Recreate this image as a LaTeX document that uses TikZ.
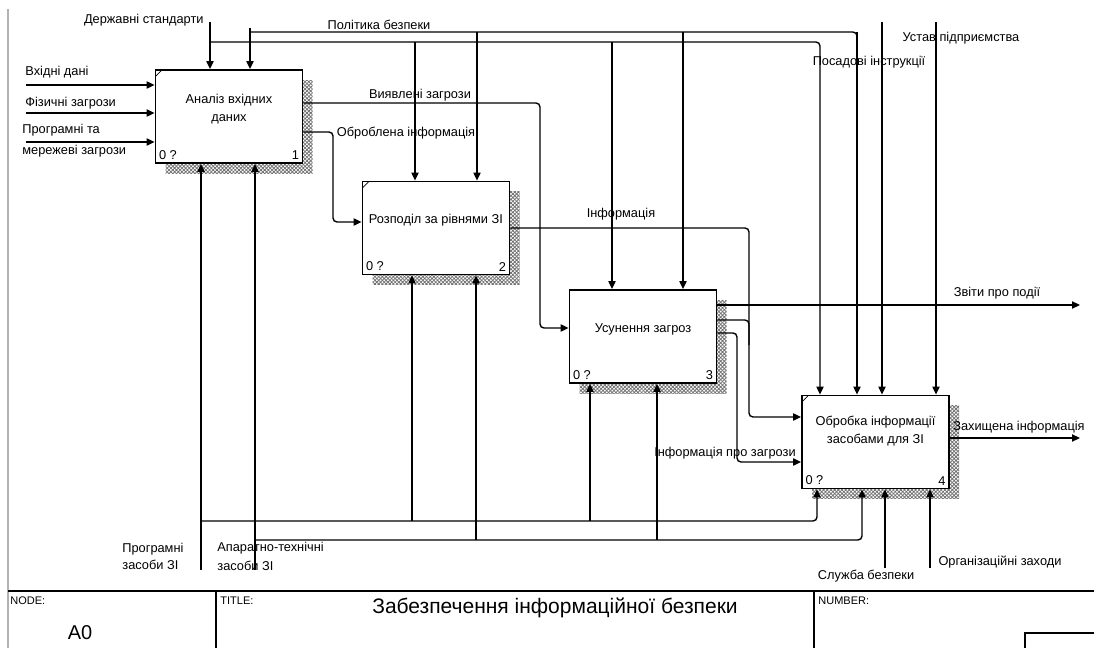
\documentclass[tikz,border=0pt]{standalone}
\usepackage{fontspec}
\setmainfont{Liberation Sans}
\usetikzlibrary{arrows.meta,shadows,patterns.meta}

\begin{document}
\begin{tikzpicture}[x=0.5pt, y=-0.5pt,
    box/.style={draw, line width=0.9pt, fill=white, minimum width=73.5pt,
      minimum height=46.5pt, inner sep=0pt,
      drop shadow={shadow xshift=5pt, shadow yshift=-5pt, opacity=1,
        pattern={Hatch[distance=1.3pt, angle=45, line width=0.4pt]}, pattern color=black!55}},
    boxtxt/.style={font=\fontsize{6.4}{9}\selectfont, align=center, inner sep=0pt},
    lbl/.style={font=\fontsize{6.4}{8}\selectfont, inner sep=0pt},
    corner/.style={font=\fontsize{6.4}{8}\selectfont, inner sep=2pt},
    conn/.style={line width=0.7pt, rounded corners=2pt},
    arr/.style={conn, -{Triangle[length=4pt, width=3.6pt]}}]
  \useasboundingbox (0,0) rectangle (1094,648);

  % --- Frame ---
  \draw[gray!60, line width=0.6pt] (8,648) -- (8,9);

  % --- Activities ---
  \node[box] (b1) at (229,116.5) {};
  \node[box] (b2) at (436,228) {};
  \node[box] (b3) at (643,336.5) {};
  \node[box] (b4) at (875.5,442) {};
  \node[boxtxt] (t1) at (229,109) {Аналіз вхідних\\даних};
  \node[boxtxt] (t2) at (436,220) {Розподіл за рівнями ЗІ};
  \node[boxtxt] (t3) at (643,329) {Усунення загроз};
  \node[boxtxt] (t4) at (875.5,431) {Обробка інформації\\засобами для ЗІ};
  \foreach \b/\n in {b1/1, b2/2, b3/3, b4/4} {
    \node[corner, anchor=south west] at (\b.south west) {0 ?};
    \node[corner, anchor=south east] at (\b.south east) {\n};
  }
  \foreach \b in {b1, b2, b4}
    \draw[line width=0.4pt] ([xshift=0.6pt, yshift=-3.5pt]\b.north west) -- ([xshift=3.5pt, yshift=-0.6pt]\b.north west);

  % --- Controls ---
  \coordinate (stdIn) at (210,22);
  \coordinate (stdBus) at (210,42);
  \coordinate (polBus) at (250,32);
  \coordinate (posIn) at (882,22);
  \coordinate (ustIn) at (936,22);
  \node[lbl, anchor=east] (stdLbl) at (204,20) {Державні стандарти};
  \node[lbl] (polLbl) at (379,25) {Політика безпеки};
  \node[lbl] (posLbl) at (869,62) {Посадові інструкції};
  \node[lbl] (ustLbl) at (961,38) {Устав підприємства};
  \draw[arr] (stdIn) -- (stdIn |- b1.north);
  \draw[arr] (stdBus) -| (820,0 |- b4.north);
  \draw[arr] (415,42) -- (415,0 |- b2.north);
  \draw[arr] (612,42) -- (612,0 |- b3.north);
  \draw[arr] (857,32) -- (857,0 |- b4.north);
  \draw[arr] (polBus) -| (polBus |- b1.north);
  \draw[conn] (polBus) -- (857,32) -- (857,60);
  \draw[arr] (477,32) -- (477,0 |- b2.north);
  \draw[arr] (683,32) -- (683,0 |- b3.north);
  \draw[arr] (posIn) -- (posIn |- b4.north);
  \draw[arr] (ustIn) -- (ustIn |- b4.north);

  % --- Inputs ---
  \coordinate (inA) at (26,85);
  \coordinate (inB) at (26,113);
  \coordinate (inC) at (26,142);
  \node[lbl, anchor=west] (inLbl) at (25,72) {Вхідні дані};
  \node[lbl, anchor=west] (phLbl) at (25,103) {Фізичні загрози};
  \node[lbl, anchor=west, align=left, font=\fontsize{6.4}{10.5}\selectfont] (swLbl) at (22,141) {Програмні та\\мережеві загрози};
  \draw[arr] (inA) -- (inA -| b1.west);
  \draw[arr] (inB) -- (inB -| b1.west);
  \draw[arr] (inC) -- (inC -| b1.west);

  % --- Flows between activities ---
  \node[lbl] (detLbl) at (420,95) {Виявлені загрози};
  \node[lbl] (procLbl) at (406,133) {Оброблена інформація};
  \node[lbl] (infLbl) at (621,214) {Інформація};
  \node[lbl] (thrLbl) at (725,453) {Інформація про загрози};
  \draw[arr] (b1.east |- 0,103) -- (540,103) |- (b3.west |- 0,328);
  \draw[arr] (b1.east |- 0,132) -- (333,132) |- (b2.west |- 0,222);
  \draw[arr] (b2.east |- 0,228) -- (749,228) |- (b4.west |- 0,417);
  \draw[conn] (b3.east |- 0,320) -- (749,320) -- (749,345);
  \draw[arr] (b3.east |- 0,333) -- (737,333) |- (b4.west |- 0,462);

  % --- Outputs ---
  \coordinate (repOut) at (1080,305);
  \coordinate (protOut) at (1080,438);
  \node[lbl] (repLbl) at (997,293) {Звіти про події};
  \node[lbl] (protLbl) at (1019,427) {Захищена інформація};
  \draw[arr] (b3.east |- repOut) -- (repOut);
  \draw[arr] (b4.east |- protOut) -- (protOut);

  % --- Mechanisms ---
  \coordinate (swIn) at (201,570);
  \coordinate (hwIn) at (255,570);
  \coordinate (secIn) at (885,568);
  \coordinate (orgIn) at (930,568);
  \node[lbl, anchor=west, align=left, font=\fontsize{6.4}{8.5}\selectfont] (swmLbl) at (122,556) {Програмні\\засоби ЗІ};
  \node[lbl, anchor=west, align=left, font=\fontsize{6.4}{9.5}\selectfont] (hwLbl) at (217,556) {Апаратно-технічні\\засоби ЗІ};
  \node[lbl] (secLbl) at (866,576) {Служба безпеки};
  \node[lbl] (orgLbl) at (1000,562) {Організаційні заходи};
  \draw[arr] (swIn) -- (swIn |- b1.south);
  \draw[arr] (201,521) -| (817,0 |- b4.south);
  \draw[arr] (412,521) -- (412,0 |- b2.south);
  \draw[arr] (590,521) -- (590,0 |- b3.south);
  \draw[arr] (hwIn) -- (hwIn |- b1.south);
  \draw[arr] (255,540) -| (862,0 |- b4.south);
  \draw[arr] (476,540) -- (476,0 |- b2.south);
  \draw[arr] (657,540) -- (657,0 |- b3.south);
  \draw[arr] (secIn) -- (secIn |- b4.south);
  \draw[arr] (orgIn) -- (orgIn |- b4.south);

  % --- Title block ---
  \draw[line width=0.8pt] (8,591) -- (1094,591);
  \draw[line width=0.8pt] (216,591) -- (216,648);
  \draw[line width=0.8pt] (814,591) -- (814,648);
  \draw[line width=0.6pt] (1025,648) |- (1094,633);
  \node[lbl, anchor=west, font=\fontsize{5.5}{7}\selectfont] (nodeLbl) at (10,601) {NODE:};
  \node[lbl, font=\fontsize{10}{12}\selectfont] (nodeNum) at (80,633) {A0};
  \node[lbl, anchor=west, font=\fontsize{5.5}{7}\selectfont] (titleLbl) at (220,601) {TITLE:};
  \node[lbl, font=\fontsize{10.5}{12}\selectfont] (title) at (555,608) {Забезпечення інформаційної безпеки};
  \node[lbl, anchor=west, font=\fontsize{5.5}{7}\selectfont] (numLbl) at (818,601) {NUMBER:};

\end{tikzpicture}
\end{document}
